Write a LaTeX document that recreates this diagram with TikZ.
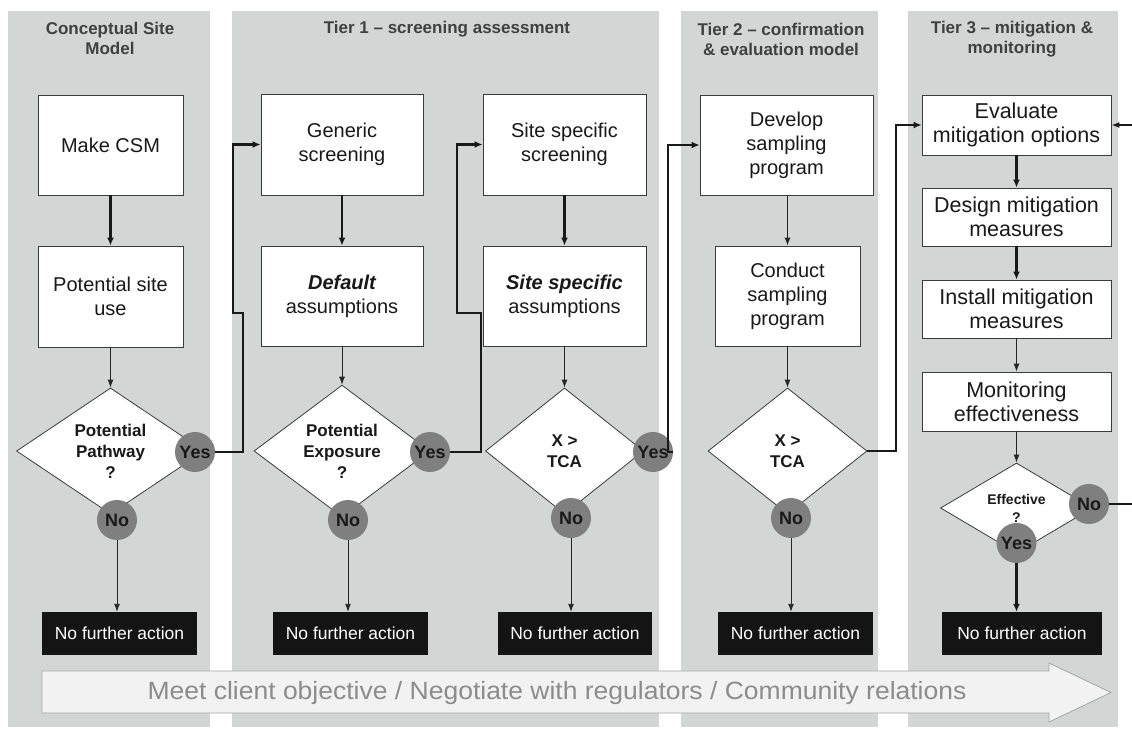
\documentclass[tikz,border=0pt]{standalone}
\usepackage{fontspec}
\setmainfont{Liberation Sans}
\usetikzlibrary{shapes.geometric,arrows.meta}
\definecolor{panel}{HTML}{D4D6D6}
\definecolor{hdr}{HTML}{404040}
\definecolor{edge}{HTML}{3A3A3A}
\definecolor{circ}{HTML}{7F7F7F}
\definecolor{nfacol}{HTML}{141414}
\definecolor{bigfill}{HTML}{F2F2F2}
\definecolor{bigline}{HTML}{A6A6A6}
\definecolor{bigtext}{HTML}{8C8C8C}
\begin{document}
\begin{tikzpicture}[x=1pt,y=-1pt,
  box/.style={draw=edge, line width=0.8pt, fill=white, align=center, inner sep=0pt, text=black!90, font=\fontsize{20}{24}\selectfont},
  tbox/.style={box, font=\fontsize{21.5}{24}\selectfont},
  nfabox/.style={fill=nfacol, text=white, inner sep=0pt, minimum height=43pt, font=\fontsize{17.5}{19}\selectfont},
  dec/.style={diamond, draw=edge, line width=0.8pt, fill=white, inner sep=0pt, align=center, text=black!90, font=\bfseries\fontsize{17}{21}\selectfont},
  yn/.style={circle, fill=circ, inner sep=0pt, minimum size=40pt, text=black!90, font=\bfseries\fontsize{18}{20}\selectfont},
  thinarr/.style={line width=0.9pt, draw=black!85, -{Latex[length=8pt,width=6pt]}},
  thickarr/.style={line width=2.2pt, draw=black!90, -{Latex[length=8pt,width=7pt]}},
  hdrtext/.style={text=hdr, align=center, font=\bfseries\fontsize{17}{20}\selectfont}
]
\useasboundingbox (0,0) rectangle (1132,728);
% panels
\fill[panel] (8,11) rectangle (210,727);
\fill[panel] (232,11) rectangle (659,727);
\fill[panel] (681,11) rectangle (878,727);
\fill[panel] (908,11) rectangle (1118,727);

% headers
\node[hdrtext] (h1) at (110,38.5) {Conceptual Site\\Model};
\node[hdrtext] (h2) at (447,29) {Tier 1 – screening assessment};
\node[hdrtext] (h3) at (781,39) {Tier 2 – confirmation\\\& evaluation model};
\node[hdrtext] (h4) at (1012,39) {Tier 3 – mitigation \&\\monitoring};

% column 1
\node[box, minimum width=145pt, minimum height=100pt] (mk) at (110.5,145) {Make CSM};
\node[box, minimum width=145pt, minimum height=101pt] (psu) at (110.5,296.5) {Potential site\\use};
\node[dec, minimum width=188pt, minimum height=126pt] (d1) at (110.5,451) {Potential\\Pathway\\?};
\node[yn] (yes1) at (195,452) {Yes};
\node[yn] (no1) at (117,520) {No};
\node[nfabox, minimum width=155pt] (nfa1) at (119.5,633.5) {No further action};

% column 2
\node[box, minimum width=162pt, minimum height=101pt] (gen) at (342,144.5) {Generic\\screening};
\node[box, minimum width=162pt, minimum height=100pt] (def) at (342,296) {{\bfseries\itshape Default}\\assumptions};
\node[dec, minimum width=176pt, minimum height=126pt] (d2) at (342,451) {Potential\\Exposure\\?};
\node[yn] (yes2) at (430,452) {Yes};
\node[yn] (no2) at (348,520) {No};
\node[nfabox, minimum width=155pt] (nfa2) at (350.5,633.5) {No further action};

% column 3
\node[box, minimum width=163pt, minimum height=101pt] (ssc) at (564.5,144.5) {Site specific\\screening};
\node[box, minimum width=163pt, minimum height=100pt] (ssa) at (564.5,296) {{\bfseries\itshape Site specific}\\assumptions};
\node[dec, minimum width=158pt, minimum height=126pt] (d3) at (564.5,451) {X >\\TCA};
\node[yn] (yes3) at (653,452) {Yes};
\node[yn] (no3) at (571,518) {No};
\node[nfabox, minimum width=154pt] (nfa3) at (575,633.5) {No further action};

% column 4
\node[box, minimum width=173pt, minimum height=100pt] (dev) at (786.5,145) {Develop\\sampling\\program};
\node[box, minimum width=145pt, minimum height=100pt] (con) at (787.5,296) {Conduct\\sampling\\program};
\node[dec, minimum width=159pt, minimum height=126pt] (d4) at (787.5,451) {X >\\TCA};
\node[yn] (no4) at (791,518) {No};
\node[nfabox, minimum width=155pt] (nfa4) at (795.5,633.5) {No further action};

% column 5
\node[tbox, minimum width=189pt, minimum height=60pt] (ev) at (1016.5,125) {Evaluate\\mitigation options};
\node[tbox, minimum width=189pt, minimum height=58pt] (des) at (1016.5,217) {Design mitigation\\measures};
\node[tbox, minimum width=189pt, minimum height=58pt] (ins) at (1016.5,309) {Install mitigation\\measures};
\node[tbox, minimum width=189pt, minimum height=59pt] (mon) at (1016.5,401.5) {Monitoring\\effectiveness};
\node[dec, minimum width=152pt, minimum height=90pt, font=\bfseries\fontsize{14}{18}\selectfont] (d5) at (1016.5,508) {Effective\\?};
\node[yn] (no5) at (1089,504) {No};
\node[yn] (yes5) at (1016.5,543) {Yes};
\node[nfabox, minimum width=160pt] (nfa5) at (1022,633.5) {No further action};

% vertical connectors
\draw[thickarr] (mk.south) -- (psu.north);
\draw[thinarr] (psu.south) -- (d1.north);
\draw[thinarr] (no1.south) -- (no1.south |- nfa1.north);
\draw[thickarr] (gen.south) -- (def.north);
\draw[thinarr] (def.south) -- (d2.north);
\draw[thinarr] (no2.south) -- (no2.south |- nfa2.north);
\draw[thickarr] (ssc.south) -- (ssa.north);
\draw[thinarr] (ssa.south) -- (d3.north);
\draw[thinarr] (no3.south) -- (no3.south |- nfa3.north);
\draw[thinarr] (dev.south -| con.north) -- (con.north);
\draw[thinarr] (con.south) -- (d4.north);
\draw[thinarr] (no4.south) -- (no4.south |- nfa4.north);
\draw[thickarr] (ev.south) -- (des.north);
\draw[thickarr] (des.south) -- (ins.north);
\draw[thinarr] (ins.south) -- (mon.north);
\draw[thinarr] (mon.south) -- (d5.north);
\draw[thickarr] (yes5.south) -- (yes5.south |- nfa5.north);

% loop connectors
\coordinate (ja1) at (243,313);
\coordinate (jb1) at (233,313);
\draw[thickarr] (yes1.east) -- (yes1.east -| ja1) -- (ja1) -- (jb1) -- (jb1 |- gen.west) -- (gen.west);
\coordinate (ja2) at (481,313);
\coordinate (jb2) at (457,313);
\draw[thickarr] (yes2.east) -- (yes2.east -| ja2) -- (ja2) -- (jb2) -- (jb2 |- ssc.west) -- (ssc.west);
\coordinate (ja3) at (668,313);
\draw[thickarr] (yes3.east) -- (yes3.east -| ja3) -- (ja3 |- dev.west) -- (dev.west);
\coordinate (ja4) at (896,313);
\draw[thickarr] (d4.east) -- (d4.east -| ja4) -- (ja4 |- ev.west) -- (ev.west);
\coordinate (ja5) at (1140,313);
\draw[line width=1.4pt, draw=black!90, -{Latex[length=8pt,width=6pt]}] (no5.east) -- (no5.east -| ja5) -- (ja5 |- ev.east) -- (ev.east);

% bottom banner
\filldraw[fill=bigfill, draw=bigline, line width=0.8pt] (42,671) -- (1049,671) -- (1049,663) -- (1111,692.5) -- (1049,722) -- (1049,713) -- (42,713) -- cycle;
\node[text=bigtext, font=\fontsize{25}{27}\selectfont] (banner) at (557,693) {\scalebox{1.06}[1]{Meet client objective / Negotiate with regulators / Community relations}};
\end{tikzpicture}
\end{document}
